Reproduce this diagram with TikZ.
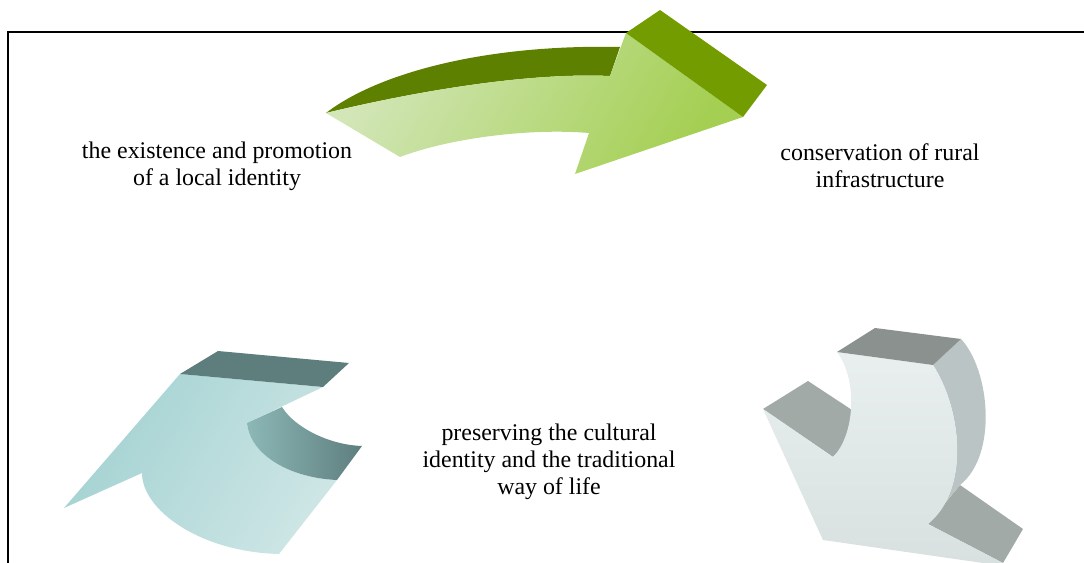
\documentclass[tikz,border=0pt]{standalone}
\usepackage{fontspec}
\setmainfont{Liberation Serif}
\usepackage{xcolor}
\usepackage{tikz}
\usetikzlibrary{positioning}

\definecolor{grnlight}{HTML}{D2E6B8}
\definecolor{grnmid}{HTML}{A4CF52}
\definecolor{grndark}{HTML}{5E8000}
\definecolor{grnside}{HTML}{739C00}
\definecolor{tealface}{HTML}{A4D2D2}
\definecolor{teallight}{HTML}{CDE5E5}
\definecolor{tealtop}{HTML}{5E7E7E}
\definecolor{tealinner}{HTML}{8CB8B6}
\definecolor{grayface}{HTML}{E9EFEF}
\definecolor{graylow}{HTML}{D8E0E0}
\definecolor{graytop}{HTML}{8A918F}
\definecolor{grayside}{HTML}{BAC4C4}
\definecolor{graybarb}{HTML}{A2AAA8}

\begin{document}
\begin{tikzpicture}[x=0.02cm, y=-0.02cm,
    label/.style={align=center, font=\fontsize{13.6}{15.4}\selectfont, inner sep=0pt},
    face/.style={draw=none}]
    \useasboundingbox (0,0) rectangle (1084,563);
    \clip (0,0) rectangle (1084,563);

    % frame
    \draw[line width=1.1pt] (8,570) -- (8,32) -- (1090,32);

    % green arrow
    \fill[grndark, face] (326,113) .. controls (375,75) and (480,44) .. (620,47)
        -- (610,76) .. controls (520,72) and (400,95) .. (326,113) -- cycle;
    \shade[face, left color=grnlight, right color=grnmid, shading angle=60]
        (326,113) -- (400,157) .. controls (450,138) and (530,128) .. (589,133)
        -- (575,174) -- (743,117) -- (626,33) -- (610,76)
        .. controls (520,72) and (400,95) .. (326,113) -- cycle;
    \fill[grnside, face] (626,33) -- (660,10) -- (767,85) -- (743,117) -- cycle;

    % teal arrow
    \shade[face, left color=tealface, right color=teallight, shading angle=60]
        (64,508) -- (180,374) -- (323,387) -- (247,423)
        .. controls (250,455) and (290,478) .. (337,480)
        -- (279,554) .. controls (200,552) and (142,510) .. (142,473) -- cycle;
    \fill[tealtop, face] (180,374) -- (218,351) -- (349,363) -- (323,387) -- cycle;
    \shade[face, left color=tealinner, right color=tealtop]
        (247,423) -- (282,407) .. controls (295,428) and (330,445) .. (362,446)
        -- (337,480) .. controls (290,478) and (250,455) .. (247,423) -- cycle;

    % gray arrow
    \fill[graybarb, face] (763,409) -- (808,381) -- (852,410)
        .. controls (852,430) and (845,445) .. (833,457) -- cycle;
    \fill[graybarb, face] (928,524) -- (960,485) -- (1023,529) -- (1003,563) -- cycle;
    \fill[grayside, face] (933,365) -- (961,339) .. controls (990,370) and (998,455) .. (960,485)
        -- (928,524) .. controls (970,490) and (962,410) .. (933,365) -- cycle;
    \shade[face, top color=grayface, bottom color=graylow]
        (763,409) -- (833,457) .. controls (855,435) and (858,380) .. (837,352)
        -- (933,365) .. controls (962,410) and (970,490) .. (928,524)
        -- (1003,563) -- (983,563) -- (823,540) -- cycle;
    \fill[graytop, face] (837,352) -- (875,328) -- (961,339) -- (933,365) -- cycle;

    % labels
    \node[label] (identity) at (217,166) {the existence and promotion\\of a local identity};
    \node[label] (infra) at (880,166) {conservation of rural\\infrastructure};
    \node[label] (lifeway) at (549,462) {preserving the cultural\\identity and the traditional\\way of life};
\end{tikzpicture}
\end{document}
